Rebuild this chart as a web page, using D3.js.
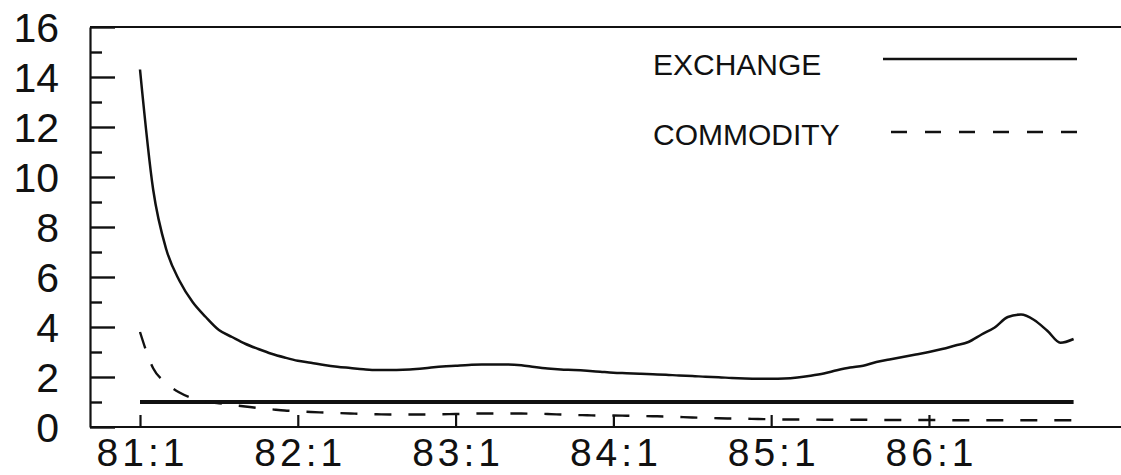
<!DOCTYPE html>
<html>
<head>
<meta charset="utf-8">
<script src="https://cdn.jsdelivr.net/npm/d3@7/dist/d3.min.js"></script>
<style>
  html, body { margin: 0; padding: 0; background: #fff; }
  svg { display: block; }
  text { font-family: "Liberation Sans", Arial, sans-serif; fill: #111; }
</style>
</head>
<body>
<svg id="chart" width="1121" height="475"></svg>
<script>
// Monthly periods, 81:1 through 86:12
const years = [81, 82, 83, 84, 85, 86];
const periods = years.flatMap(y => d3.range(1, 13).map(m => `${y}:${m}`));

// Tick labels on the axes
const xTickLabels = ["81:1", "82:1", "83:1", "84:1", "85:1", "86:1"];
const yMajorTicks = [0, 2, 4, 6, 8, 10, 12, 14, 16];
const yMinorTicks = [1, 3, 5, 7, 9, 11, 13, 15];

// Series values, one per month
const exchange = [
  14.3, 9.5, 7.1, 5.85, 5.0, 4.4, 3.88, 3.6, 3.33, 3.12, 2.93, 2.78,
  2.65, 2.57, 2.48, 2.41, 2.36, 2.31, 2.28, 2.28, 2.29, 2.32, 2.37, 2.42,
  2.45, 2.48, 2.5, 2.5, 2.5, 2.47, 2.4, 2.34, 2.3, 2.28, 2.25, 2.21,
  2.17, 2.15, 2.13, 2.11, 2.09, 2.06, 2.04, 2.01, 1.99, 1.96, 1.94, 1.93,
  1.93, 1.94, 1.98, 2.05, 2.14, 2.27, 2.38, 2.45, 2.6, 2.7, 2.8, 2.9,
  3.0, 3.12, 3.26, 3.4, 3.7, 3.98, 4.4, 4.5, 4.28, 3.85, 3.37, 3.52
];
const commodity = [
  3.8, 2.35, 1.75, 1.38, 1.15, 1.02, 0.95, 0.88, 0.82, 0.76, 0.71, 0.66,
  0.63, 0.6, 0.58, 0.56, 0.54, 0.52, 0.51, 0.5, 0.5, 0.5, 0.5, 0.51,
  0.52, 0.53, 0.54, 0.54, 0.54, 0.54, 0.53, 0.52, 0.5, 0.48, 0.47, 0.46,
  0.46, 0.45, 0.44, 0.43, 0.42, 0.4, 0.38, 0.37, 0.35, 0.34, 0.33, 0.32,
  0.31, 0.3, 0.3, 0.3, 0.29, 0.29, 0.29, 0.29, 0.28, 0.28, 0.28, 0.28,
  0.28, 0.28, 0.27, 0.27, 0.27, 0.27, 0.27, 0.27, 0.27, 0.27, 0.27, 0.27
];
// Parity reference level
const parityLevel = 1;

const seriesNames = ["EXCHANGE", "COMMODITY"];

const svg = d3.select("#chart");

const frame = { left: 90, right: 1121, top: 27, bottom: 427 };

const x = d3.scalePoint()
  .domain(periods)
  .range([140, 1073.6]);

const y = d3.scaleLinear()
  .domain([0, 16])
  .range([frame.bottom, frame.top]);

// Frame: top rule and bottom rule run across the full width
svg.append("line")
  .attr("x1", frame.left).attr("x2", frame.right)
  .attr("y1", frame.top).attr("y2", frame.top)
  .attr("stroke", "#111").attr("stroke-width", 2.2);
svg.append("line")
  .attr("x1", frame.left).attr("x2", frame.right)
  .attr("y1", frame.bottom).attr("y2", frame.bottom)
  .attr("stroke", "#111").attr("stroke-width", 2.2);

// Left axis, major ticks pointing inward with labels
const yAxis = svg.append("g")
  .attr("transform", `translate(${frame.left},0)`)
  .call(d3.axisLeft(y)
    .tickValues(yMajorTicks)
    .tickFormat(d3.format("d"))
    .tickSizeInner(-25)
    .tickSizeOuter(0)
    .tickPadding(31));
yAxis.select(".domain").attr("stroke", "#111").attr("stroke-width", 2.2);
yAxis.selectAll(".tick line").attr("stroke", "#111").attr("stroke-width", 2.4);
yAxis.selectAll(".tick text")
  .attr("font-size", 41)
  .attr("font-family", "'Liberation Sans', Arial, sans-serif")
  .attr("fill", "#111")
  .attr("dy", "0.36em");

// Left axis minor ticks
const yMinor = svg.append("g")
  .attr("transform", `translate(${frame.left},0)`)
  .call(d3.axisLeft(y)
    .tickValues(yMinorTicks)
    .tickFormat("")
    .tickSizeInner(-12)
    .tickSizeOuter(0));
yMinor.select(".domain").remove();
yMinor.selectAll(".tick line").attr("stroke", "#111").attr("stroke-width", 2.4);

// Bottom axis: short upward ticks at the start of each year
const xAxis = svg.append("g")
  .attr("transform", `translate(0,${frame.bottom})`)
  .call(d3.axisBottom(x)
    .tickValues(xTickLabels)
    .tickSizeInner(-12)
    .tickSizeOuter(0));
xAxis.select(".domain").remove();
xAxis.selectAll(".tick line").attr("stroke", "#111").attr("stroke-width", 2.2);
xAxis.selectAll(".tick text")
  .attr("font-size", 39)
  .attr("font-family", "'Liberation Sans', Arial, sans-serif")
  .attr("fill", "#111")
  .attr("letter-spacing", "4px")
  .attr("dx", "2px")
  .attr("dy", null)
  .attr("y", 39);

// Parity line at 1
svg.append("line")
  .attr("x1", x(periods[0])).attr("x2", x(periods[periods.length - 1]))
  .attr("y1", y(parityLevel)).attr("y2", y(parityLevel))
  .attr("stroke", "#111").attr("stroke-width", 4);

const line = d3.line()
  .x((d, i) => x(periods[i]))
  .y(d => y(d))
  .curve(d3.curveMonotoneX);

// Commodity series (dashed)
svg.append("path")
  .datum(commodity)
  .attr("d", line)
  .attr("fill", "none")
  .attr("stroke", "#111")
  .attr("stroke-width", 2.4)
  .attr("stroke-dasharray", "17,17");

// Exchange series (solid)
svg.append("path")
  .datum(exchange)
  .attr("d", line)
  .attr("fill", "none")
  .attr("stroke", "#111")
  .attr("stroke-width", 2.5)
  .attr("stroke-linejoin", "round");

// Legend
const legend = svg.append("g");
const legendRows = [
  { name: seriesNames[0], baseline: 75, lineY: 59, x1: 883, dash: null },
  { name: seriesNames[1], baseline: 145, lineY: 132, x1: 891, dash: "16,18" }
];
legendRows.forEach(r => {
  legend.append("text")
    .attr("x", 653)
    .attr("y", r.baseline)
    .attr("font-size", 30)
    .text(r.name);
  legend.append("line")
    .attr("x1", r.x1).attr("x2", 1077)
    .attr("y1", r.lineY).attr("y2", r.lineY)
    .attr("stroke", "#111")
    .attr("stroke-width", 2.4)
    .attr("stroke-dasharray", r.dash);
});
</script>
</body>
</html>
